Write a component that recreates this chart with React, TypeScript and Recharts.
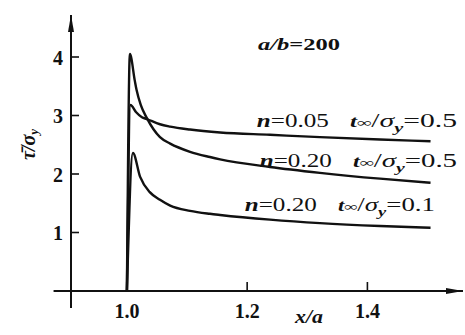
import { LineChart, Line, XAxis, YAxis, ReferenceLine, ReferenceDot } from "recharts";

// tick values
const xTicks = [1.0, 1.2, 1.4];
const yTicks = [1, 2, 3, 4];

// n = 0.05, t∞/σy = 0.5
const xA = [1.0, 1.006, 1.015, 1.025, 1.033, 1.055, 1.072, 1.105, 1.155, 1.238, 1.321, 1.421, 1.505];
const yA = [0, 3.18, 3.06, 2.97, 2.94, 2.85, 2.81, 2.76, 2.71, 2.67, 2.63, 2.59, 2.56];

// n = 0.20, t∞/σy = 0.5
const xB = [1.0, 1.005, 1.013, 1.016, 1.023, 1.033, 1.055, 1.072, 1.105, 1.138, 1.155, 1.238, 1.321, 1.421, 1.505];
const yB = [0, 4.05, 3.6, 3.44, 3.18, 2.96, 2.63, 2.52, 2.38, 2.29, 2.25, 2.12, 2.02, 1.92, 1.85];

// n = 0.20, t∞/σy = 0.1
const xC = [1.0, 1.01, 1.022, 1.038, 1.055, 1.072, 1.105, 1.138, 1.155, 1.238, 1.321, 1.421, 1.505];
const yC = [0, 2.36, 1.95, 1.69, 1.56, 1.46, 1.37, 1.32, 1.3, 1.22, 1.16, 1.11, 1.08];

const nLabels = ["0.05", "0.20", "0.20"];
const ratioLabels = ["0.5", "0.5", "0.1"];

const toPoints = (xs: number[], ys: number[]) => xs.map((x, i) => ({ x, y: ys[i] }));

const FONT = "'Liberation Serif', 'DejaVu Serif', serif";
const INK = "#111";

function XTick({ x, y, payload }: any) {
  return (
    <g>
      <line x1={x} x2={x} y1={y} y2={y - 9} stroke={INK} strokeWidth={1.6} />
      <text x={x} y={y + 27} textAnchor="middle" fontFamily={FONT} fontSize={20} fontWeight="bold" fill={INK}>
        {payload.value.toFixed(1)}
      </text>
    </g>
  );
}

function YTick({ x, y, payload }: any) {
  return (
    <g>
      <line x1={x} x2={x + 8} y1={y} y2={y} stroke={INK} strokeWidth={1.6} />
      <text x={x - 8} y={y + 8} textAnchor="end" fontFamily={FONT} fontSize={20} fontWeight="bold" fill={INK}>
        {payload.value}
      </text>
    </g>
  );
}

// axis line with a filled arrow head at its second point
const ArrowLine = (p: any) => {
  const { x1, y1, x2, y2 } = p;
  const len = Math.hypot(x2 - x1, y2 - y1) || 1;
  const ux = (x2 - x1) / len;
  const uy = (y2 - y1) / len;
  const L = 17;
  const W = 3;
  const bx = x2 - ux * L;
  const by = y2 - uy * L;
  const pts = `${x2},${y2} ${bx - uy * W},${by + ux * W} ${bx + uy * W},${by - ux * W}`;
  return (
    <g>
      <line x1={x1} y1={y1} x2={x2} y2={y2} stroke={INK} strokeWidth={2} />
      <polygon points={pts} fill={INK} />
    </g>
  );
};

const YTitle = (props: any) => {
  const vb = props.viewBox || { x: 0, y: 14, width: 71, height: 277 };
  const cx = vb.x + 28;
  const cy = vb.y + vb.height / 2 - 8;
  return (
    <text
      x={cx}
      y={cy}
      transform={`rotate(-90 ${cx} ${cy})`}
      textAnchor="middle"
      dominantBaseline="central"
      fontFamily={FONT}
      fontSize={20}
      fontWeight="bold"
      fontStyle="italic"
      fill={INK}
    >
      <tspan>τ̄/σ</tspan>
      <tspan fontSize={13} dy={5}>y</tspan>
    </text>
  );
};

const XTitle = (props: any) => {
  const vb = props.viewBox || { x: 71, y: 291, width: 392, height: 30 };
  return (
    <text
      x={vb.x + 238}
      y={vb.y + 32}
      textAnchor="middle"
      fontFamily={FONT}
      fontSize={18}
      fontWeight="bold"
      fontStyle="italic"
      fill={INK}
      textLength={28}
      lengthAdjust="spacingAndGlyphs"
    >
      x/a
    </text>
  );
};

const NText = (value: string) => (p: any) => (
  <text x={p.cx} y={p.cy} fontFamily={FONT} fontSize={19} fill={INK} textLength={72} lengthAdjust="spacingAndGlyphs">
    <tspan fontStyle="italic" fontWeight="bold">n</tspan>
    <tspan>{"=" + value}</tspan>
  </text>
);

const RatioText = (value: string, width: number) => (p: any) => (
  <text
    x={p.cx}
    y={p.cy}
    fontFamily={FONT}
    fontSize={19}
    fill={INK}
    textLength={width}
    lengthAdjust="spacingAndGlyphs"
  >
    <tspan fontStyle="italic" fontWeight="bold" fontSize={16}>t</tspan>
    <tspan fontSize={13} fontWeight="bold">∞</tspan>
    <tspan>/</tspan>
    <tspan fontStyle="italic">σ</tspan>
    <tspan fontStyle="italic" fontWeight="bold" fontSize={13} dy={5}>y</tspan>
    <tspan dy={-5}>{"=" + value}</tspan>
  </text>
);

const AbText = (p: any) => (
  <text x={p.cx} y={p.cy} fontFamily={FONT} fontSize={17} fill={INK} textLength={82} lengthAdjust="spacingAndGlyphs">
    <tspan fontStyle="italic" fontWeight="bold">a/b</tspan>
    <tspan fontWeight="bold">=200</tspan>
  </text>
);

export default function App() {
  const series = [toPoints(xA, yA), toPoints(xB, yB), toPoints(xC, yC)];
  const nPos = [
    { x: 1.216, y: 2.8 },
    { x: 1.221, y: 2.12 },
    { x: 1.196, y: 1.37 },
  ];
  const rPos = [
    { x: 1.371, y: 2.8, w: 107 },
    { x: 1.376, y: 2.12, w: 104 },
    { x: 1.351, y: 1.37, w: 97 },
  ];

  return (
    <div style={{ position: "absolute", left: 0, top: 0, background: "#fff" }}>
      <LineChart width={465} height={335} margin={{ top: 14, right: 2, left: 0, bottom: 14 }}>
        <XAxis
          dataKey="x"
          type="number"
          domain={[0.907, 1.559]}
          ticks={xTicks}
          interval={0}
          allowDataOverflow
          axisLine={false}
          tickLine={false}
          tickSize={0}
          tickMargin={0}
          height={30}
          tick={<XTick />}
          label={XTitle}
        />
        <YAxis
          type="number"
          domain={[0, 4.735]}
          ticks={yTicks}
          interval={0}
          allowDataOverflow
          axisLine={false}
          tickLine={false}
          tickSize={0}
          tickMargin={0}
          width={71}
          tick={<YTick />}
          label={YTitle}
        />
        <ReferenceLine
          segment={[{ x: 0.907, y: -0.29 }, { x: 0.907, y: 4.72 }]}
          ifOverflow="visible"
          shape={ArrowLine}
        />
        <ReferenceLine
          segment={[{ x: 0.878, y: 0 }, { x: 1.559, y: 0 }]}
          ifOverflow="visible"
          shape={ArrowLine}
        />
        {series.map((pts, i) => (
          <Line
            key={i}
            data={pts}
            dataKey="y"
            type="monotone"
            stroke={INK}
            strokeWidth={2.4}
            dot={false}
            isAnimationActive={false}
          />
        ))}
        <ReferenceDot x={1.218} y={4.12} r={0} ifOverflow="visible" shape={AbText} />
        {nLabels.map((v, i) => (
          <ReferenceDot key={"n" + i} x={nPos[i].x} y={nPos[i].y} r={0} ifOverflow="visible" shape={NText(v)} />
        ))}
        {ratioLabels.map((v, i) => (
          <ReferenceDot
            key={"r" + i}
            x={rPos[i].x}
            y={rPos[i].y}
            r={0}
            ifOverflow="visible"
            shape={RatioText(v, rPos[i].w)}
          />
        ))}
      </LineChart>
    </div>
  );
}
